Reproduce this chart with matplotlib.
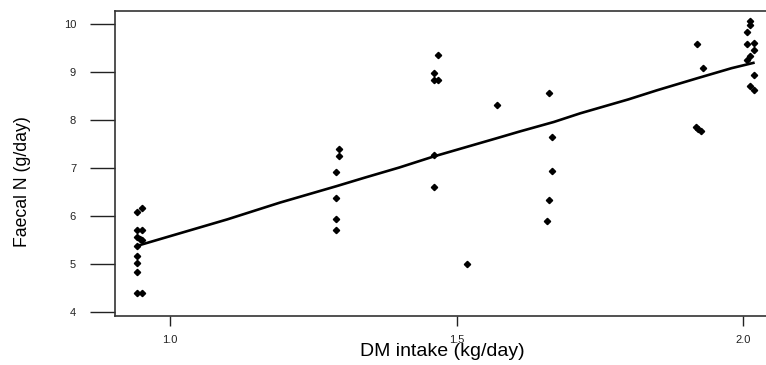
import numpy as np
import matplotlib.pyplot as plt

plt.rcParams['font.family'] = ['Liberation Sans', 'DejaVu Sans']

# observed intake (kg/day) and faecal N (g/day)
dm_intake = [0.951, 0.943, 0.943, 0.951, 0.943, 0.947, 0.951, 0.943, 0.943, 0.943, 0.943, 0.943, 0.951,
             1.295, 1.295, 1.290, 1.290, 1.290, 1.290,
             1.468, 1.460, 1.460, 1.468, 1.460, 1.460,
             1.518, 1.570,
             1.661, 1.667, 1.667, 1.661, 1.658,
             1.919, 1.930, 1.918, 1.922, 1.926,
             2.012, 2.012, 2.006, 2.006, 2.019, 2.019, 2.012, 2.006, 2.019, 2.012, 2.019]
faecal_n = [6.17, 6.08, 5.71, 5.71, 5.56, 5.52, 5.49, 5.38, 5.16, 5.02, 4.83, 4.40, 4.40,
            7.40, 7.25, 6.92, 6.38, 5.94, 5.70,
            9.35, 8.97, 8.83, 8.83, 7.28, 6.60,
            4.99, 8.32,
            8.56, 7.64, 6.93, 6.33, 5.90,
            9.58, 9.09, 7.86, 7.82, 7.78,
            10.07, 9.98, 9.84, 9.58, 9.60, 9.46, 9.33, 9.26, 8.94, 8.71, 8.62]

# fitted curve
fit_x = [0.943, 1.0, 1.1, 1.192, 1.29, 1.34, 1.40, 1.46, 1.57, 1.61, 1.67, 1.716, 1.80, 1.85, 1.92, 1.98, 2.018]
fit_y = [5.38, 5.58, 5.93, 6.28, 6.62, 6.80, 7.01, 7.24, 7.62, 7.76, 7.96, 8.14, 8.43, 8.62, 8.87, 9.08, 9.19]

xticks = [1.0, 1.5, 2.0]
yticks = [4, 5, 6, 7, 8, 9, 10]

fig = plt.figure(figsize=(7.66, 3.65), dpi=100)
ax = fig.add_axes([115/766, 49/365, 655/766, 305/365])

ax.plot(dm_intake, faecal_n, linestyle=' ', marker='D', markersize=3.2, color='black')
ax.plot(fit_x, fit_y, color='black', lw=1.9)

ax.set_xlim(0.904, 2.047)
ax.set_ylim(3.917, 10.271)

ax.set_xticks(xticks)
ax.set_xticklabels(['%.1f' % t for t in xticks])
ax.set_yticks(yticks)

for s in ax.spines.values():
    s.set_color('#333333')
    s.set_linewidth(1.2)
ax.spines['right'].set_visible(False)

ax.tick_params(axis='y', direction='out', length=18, width=1.0, pad=10, labelsize=8, colors='#222222')
ax.tick_params(axis='x', direction='out', length=7.5, width=1.0, pad=6, labelsize=8, colors='#222222')

ax.set_xlabel('DM intake (kg/day)', fontsize=14)
ax.xaxis.set_label_coords(0.5, (316 - 352) / 305)
ax.xaxis.label.set_va('center')
ax.set_ylabel('Faecal N (g/day)', fontsize=12.7)
ax.yaxis.set_label_coords((23 - 115) / 655, (316 - 182) / 305)
ax.yaxis.label.set_va('center')

plt.savefig('out.png', dpi=100)
